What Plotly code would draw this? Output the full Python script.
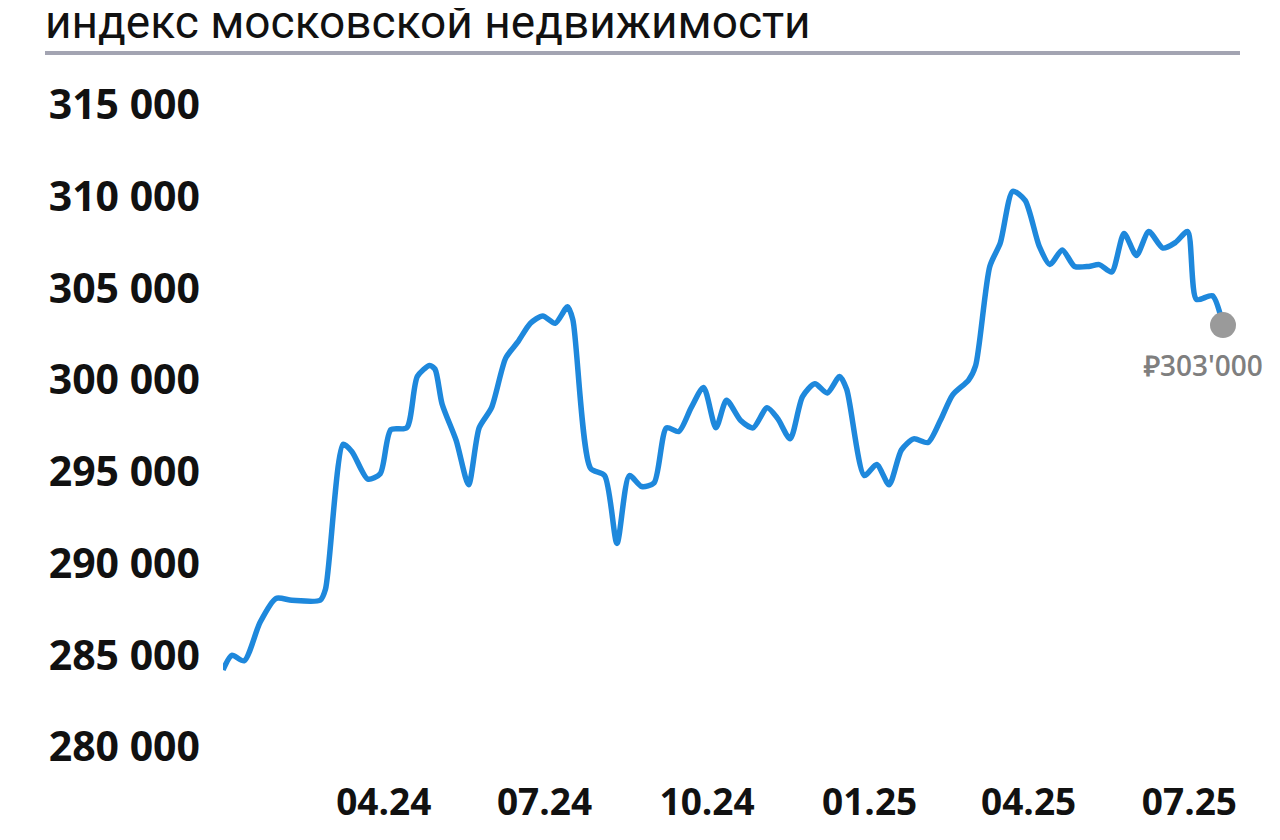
import plotly.graph_objects as go

DATES = [
    "2024-01-01", "2024-01-06", "2024-01-13", "2024-01-22", "2024-01-31",
    "2024-02-09", "2024-02-25", "2024-02-28", "2024-03-09", "2024-03-14",
    "2024-03-23", "2024-03-30", "2024-04-05", "2024-04-14", "2024-04-20",
    "2024-04-27", "2024-04-30", "2024-05-04", "2024-05-12", "2024-05-19",
    "2024-05-25", "2024-06-01", "2024-06-09", "2024-06-16", "2024-06-23",
    "2024-06-30", "2024-07-07", "2024-07-14", "2024-07-17", "2024-07-27",
    "2024-08-04", "2024-08-11", "2024-08-18", "2024-08-25", "2024-09-01",
    "2024-09-08", "2024-09-15", "2024-09-22", "2024-09-29", "2024-10-06",
    "2024-10-12", "2024-10-20", "2024-10-27", "2024-11-04", "2024-11-10",
    "2024-11-17", "2024-11-24", "2024-12-01", "2024-12-08", "2024-12-15",
    "2024-12-19", "2024-12-29", "2025-01-05", "2025-01-12", "2025-01-19",
    "2025-01-26", "2025-02-03", "2025-02-10", "2025-02-17", "2025-02-26",
    "2025-03-02", "2025-03-10", "2025-03-16", "2025-03-23", "2025-03-30",
    "2025-04-07", "2025-04-13", "2025-04-20", "2025-04-27", "2025-05-05",
    "2025-05-11", "2025-05-18", "2025-05-25", "2025-06-01", "2025-06-08",
    "2025-06-16", "2025-06-23", "2025-06-30", "2025-07-05", "2025-07-14",
    "2025-07-20",
]

VALUES = [
    284200, 285000, 284700, 286800, 288100,
    288000, 288000, 288600, 296500, 296100,
    294600, 294900, 297300, 297400, 300200,
    300800, 300600, 298700, 296700, 294300,
    297400, 298500, 301200, 302100, 303100,
    303500, 303100, 304000, 303300, 295200,
    294800, 291100, 294800, 294200, 294400,
    297400, 297200, 298500, 299600, 297400,
    298900, 297800, 297400, 298500, 297900,
    296800, 299100, 299800, 299300, 300200,
    299500, 294800, 295400, 294300, 296200,
    296800, 296600, 297800, 299200, 300000,
    300800, 306200, 307500, 310300, 309800,
    307300, 306300, 307100, 306200, 306200,
    306300, 305900, 308000, 306800, 308100,
    307200, 307500, 308100, 304400, 304600,
    303000,
]

TICK_DATES = ["2024-04-01", "2024-07-01", "2024-10-01",
              "2025-01-01", "2025-04-01", "2025-07-01"]
TICK_TEXT = ["04.24", "07.24", "10.24", "01.25", "04.25", "07.25"]

Y_TICKS = [280000, 285000, 290000, 295000, 300000, 305000, 310000, 315000]

TITLE = "индекс московской недвижимости"

_BLUE = "#1E88DC"
_GREY_DOT = "#9A9A9A"
_GREY_TEXT = "#7F7F7F"
_RULE = "#A3A4B2"

last = VALUES[-1]
last_label = f"₽{last // 1000}'{last % 1000:03d}"

fig = go.Figure()

fig.add_trace(go.Scatter(
    x=DATES, y=VALUES, mode="lines",
    line=dict(color=_BLUE, width=5.5, shape="spline", smoothing=0.7),
    cliponaxis=False,
    hoverinfo="skip",
))

fig.add_trace(go.Scatter(
    x=[DATES[-1]], y=[last], mode="markers",
    marker=dict(color=_GREY_DOT, size=26),
    cliponaxis=False,
    hoverinfo="skip",
))

# page body adds an 8px margin, so the figure is 8px smaller and margins
# are shifted to keep the plot where the reference has it
fig.update_layout(
    width=1272, height=832,
    paper_bgcolor="white", plot_bgcolor="white",
    showlegend=False,
    separators=". ",
    margin=dict(l=215, r=57, t=97, b=93),
    font=dict(family="Open Sans, sans-serif", color="#111111"),
    xaxis=dict(
        type="date",
        range=[DATES[0], DATES[-1]],
        tickvals=TICK_DATES, ticktext=TICK_TEXT,
        showgrid=False, zeroline=False, showline=False, ticks="",
        tickfont=dict(family="Open Sans", size=37, weight="bold", color="#111111"),
        ticklabelstandoff=30,
    ),
    yaxis=dict(
        range=[280000, 315000],
        tickvals=Y_TICKS, tickformat=",d",
        showgrid=False, zeroline=False, showline=False, ticks="",
        tickfont=dict(family="Open Sans", size=41, weight="bold", color="#111111"),
        ticklabelstandoff=22,
    ),
    shapes=[dict(
        type="line", xref="paper", yref="paper",
        x0=-0.178, x1=1.017, y0=1.081, y1=1.081,
        line=dict(color=_RULE, width=4),
    )],
    annotations=[
        dict(
            text=TITLE, xref="paper", yref="paper",
            x=-0.18, y=1.13, xanchor="left", yanchor="middle",
            showarrow=False,
            font=dict(family="Roboto", size=46, color="#111111"),
        ),
        dict(
            text=last_label, x=DATES[-1], y=last,
            xanchor="center", yanchor="middle", yshift=-40, xshift=-20,
            showarrow=False,
            font=dict(family="Open Sans", size=28, weight=600, color=_GREY_TEXT),
        ),
    ],
)

fig.write_html("out.html")
